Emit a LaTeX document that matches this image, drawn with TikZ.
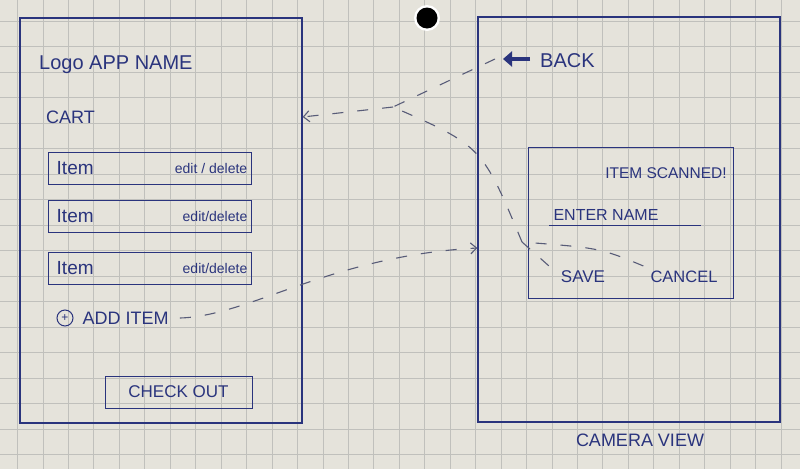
\documentclass[tikz,border=0pt]{standalone}
\usepackage{fontspec}
\setmainfont{Liberation Sans}
\usetikzlibrary{arrows.meta,positioning,calc}

\definecolor{paper}{RGB}{229,227,219}
\definecolor{gridgray}{RGB}{192,192,188}
\definecolor{ink}{RGB}{42,52,125}
\definecolor{pencil}{RGB}{88,92,120}

\tikzset{
  screen/.style={draw=ink, line width=1.2pt, inner sep=0pt},
  box/.style={draw=ink, line width=1pt, inner sep=0pt},
  hand/.style={text=ink, inner sep=1pt, font=\fontsize{#1}{#1}\selectfont},
  hand/.default=18,
  flow/.style={draw=pencil, line width=1.1pt, dash pattern=on 11pt off 14pt},
  barb/.style={-{Straight Barb[length=6pt, width=11pt]}},
}

\begin{document}
\begin{tikzpicture}[x=1pt, y=-1pt]
    % Paper
    \useasboundingbox (0,0) rectangle (800,469);
    \clip (0,0) rectangle (800,469);
    \fill[paper] (0,0) rectangle (800,469);
    \foreach \i in {0,...,31}
        \draw[gridgray, line width=0.8pt] ({17.5+25.45*\i},0) -- ++(0,469);
    \foreach \j in {0,...,18}
        \draw[gridgray, line width=0.8pt] (0,{21+25.5*\j}) -- ++(800,0);
    \fill[white] (427,18) circle (13);
    \fill[black] (427,18) circle (10.5);

    % Cart screen
    \node[screen, minimum width=282, minimum height=405] (cartscreen) at (161,220.5) {};
    \node[hand=20, anchor=west] (appname) at (38,65) {Logo APP NAME};
    \node[hand=18, anchor=west] (cart) at (45,117) {CART};

    \node[box, minimum width=203, minimum height=32] (item1) at (149.5,168) {};
    \node[hand=19, anchor=west] (itemtext1) at ([xshift=8pt]item1.west) {Item};
    \node[hand=14, anchor=east] (edit1) at ([xshift=-3pt]item1.east) {edit / delete};

    \node[box, minimum width=203, minimum height=32] (item2) at (149.5,216.5) {};
    \node[hand=19, anchor=west] (itemtext2) at ([xshift=8pt]item2.west) {Item};
    \node[hand=14, anchor=east] (edit2) at ([xshift=-3pt]item2.east) {edit/delete};

    \node[box, minimum width=203, minimum height=32] (item3) at (149.5,268) {};
    \node[hand=19, anchor=west] (itemtext3) at ([xshift=8pt]item3.west) {Item};
    \node[hand=14, anchor=east] (edit3) at ([xshift=-3pt]item3.east) {edit/delete};

    \node[draw=ink, circle, line width=1pt, minimum size=16pt, inner sep=0pt, hand=12] (plus) at (65,318) {+};
    \node[hand=18, right=8pt of plus] (additem) {ADD ITEM};

    \node[box, minimum width=147, minimum height=32, hand=17] (checkout) at (178.5,392) {CHECK OUT};

    % Camera screen
    \node[screen, minimum width=302, minimum height=405] (camscreen) at (629,219.5) {};
    \node[hand=20, anchor=west] (back) at (539,61) {BACK};
    \coordinate (backicon) at (503,59);
    \draw[ink, line width=4pt, -{Triangle[length=9pt, width=15pt]}] ([xshift=27pt]backicon) -- (backicon);

    \node[box, minimum width=205, minimum height=151] (dialog) at (630.5,222.5) {};
    \node[hand=15.5] (scanned) at (666,173) {ITEM SCANNED!};
    \node[hand=16] (entername) at (606,215) {ENTER NAME};
    \draw[ink, line width=1pt] ($(entername.south west)+(-3,4)$) -- ($(entername.south west)+(149,4)$);
    \node[hand=17] (save) at (583,277) {SAVE};
    \node[hand=16.5] (cancel) at (684,277) {CANCEL};
    \node[hand=18] (camview) at (640,440) {CAMERA VIEW};

    % Flows
    \coordinate (merge) at (393,107);
    \coordinate (join) at (522,242);
    \draw[flow] ([xshift=-8pt]backicon) -- (merge);
    \draw[flow] ([xshift=-11pt, yshift=4pt]save.north west) -- (join);
    \draw[flow] ([xshift=-6pt, yshift=4pt]cancel.north west) .. controls (600,248) .. (join);
    \draw[flow] (join) .. controls (482,146) .. (merge);
    \draw[flow, barb] (merge) -- (cartscreen.east |- cart);
    \draw[flow, barb] ([xshift=10pt]additem.east) .. controls (250,316) and (330,256) .. ([yshift=-28.5pt]camscreen.west);
\end{tikzpicture}
\end{document}
